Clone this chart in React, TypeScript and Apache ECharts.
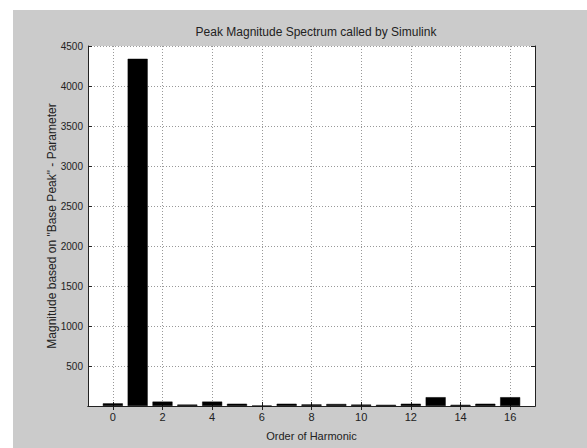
import React, { useEffect, useRef } from "react";
import * as echarts from "echarts";

const harmonicOrders = [0, 1, 2, 3, 4, 5, 6, 7, 8, 9, 10, 11, 12, 13, 14, 15, 16];
const magnitudes = [33, 4340, 55, 18, 55, 28, 5, 28, 20, 25, 18, 15, 28, 110, 15, 28, 110];
const yTicks = [0, 500, 1000, 1500, 2000, 2500, 3000, 3500, 4000, 4500];

const titleText = "Peak Magnitude Spectrum called by Simulink";
const xName = "Order of Harmonic";
const yName = 'Magnitude based on "Base Peak" - Parameter';

const FONT = "'Liberation Sans Narrow', 'Arial Narrow', 'Liberation Sans', sans-serif";

export default function App() {
  const ref = useRef<HTMLDivElement>(null);
  useEffect(() => {
    if (!ref.current) return;
    const chart = echarts.init(ref.current, undefined, { renderer: "svg" });
    const cats = [String(harmonicOrders[0] - 1), ...harmonicOrders.map(String), String(harmonicOrders[harmonicOrders.length - 1] + 1)];
    const data: (number | string)[] = ["-", ...magnitudes, "-"];
    const isEven = (i: number) => {
      const v = Number(cats[i]);
      return v >= 0 && v <= 16 && v % 2 === 0;
    };
    const tickInt = (i: number) => isEven(i);
    const baseX = {
      type: "category" as const,
      data: cats,
      boundaryGap: false,
      axisLine: { show: true, lineStyle: { color: "#222", width: 1 } },
      axisTick: { show: true, inside: true, length: 4, interval: tickInt, lineStyle: { color: "#222" } },
    };
    chart.setOption({
      animation: false,
      backgroundColor: "transparent",
      graphic: [
        { type: "rect", shape: { x: 13, y: 10, width: 574, height: 438 }, style: { fill: "#cbcbcb" }, z: -10, silent: true },
      ],
      title: {
        text: titleText,
        left: 311,
        textAlign: "center",
        top: 21,
        textStyle: { fontFamily: FONT, fontSize: 12, fontWeight: "normal", color: "#222" },
      },
      grid: { left: 88, right: 52, top: 46, bottom: 42, show: true, backgroundColor: "#ffffff", borderWidth: 0 },
      xAxis: [
        {
          ...baseX,
          position: "bottom",
          name: xName,
          nameLocation: "middle",
          nameGap: 24,
          nameMoveOverlap: false,
          nameTextStyle: { fontFamily: FONT, fontSize: 11, color: "#222" },
          axisLabel: {
            interval: tickInt,
            fontFamily: FONT,
            fontSize: 11,
            color: "#222",
            margin: 5,
          },
          splitLine: { show: true, interval: tickInt, lineStyle: { type: [1, 2], color: "#999", width: 1 } },
        },
        {
          ...baseX,
          position: "top",
          axisLabel: { show: false },
          splitLine: { show: false },
        },
      ],
      yAxis: [
        {
          type: "value",
          min: yTicks[0],
          max: yTicks[yTicks.length - 1],
          interval: 500,
          position: "left",
          name: yName,
          nameLocation: "middle",
          nameGap: 30,
          nameMoveOverlap: false,
          nameTextStyle: { fontFamily: FONT, fontSize: 12, color: "#222" },
          axisLine: { show: true, lineStyle: { color: "#222" } },
          axisTick: { show: true, inside: true, length: 4, lineStyle: { color: "#222" } },
          axisLabel: {
            fontFamily: FONT,
            fontSize: 10,
            color: "#222",
            margin: 5,
            formatter: (v: number) => (v === 0 ? "" : String(v)),
          },
          splitLine: { show: true, lineStyle: { type: [1, 2], color: "#999", width: 1 } },
        },
        {
          type: "value",
          min: yTicks[0],
          max: yTicks[yTicks.length - 1],
          interval: 500,
          position: "right",
          axisLine: { show: true, lineStyle: { color: "#222" } },
          axisTick: { show: true, inside: true, length: 4, lineStyle: { color: "#222" } },
          axisLabel: { show: false },
          splitLine: { show: false },
        },
      ],
      series: [
        {
          type: "bar",
          data,
          xAxisIndex: 0,
          yAxisIndex: 0,
          barWidth: 20,
          itemStyle: { color: "#000", borderColor: "#000", borderWidth: 0.5 },
        },
      ],
    });
    return () => chart.dispose();
  }, []);
  return (
    <div
      ref={ref}
      style={{ position: "fixed", left: 0, top: 0, width: 587, height: 448, background: "#ffffff" }}
    />
  );
}
